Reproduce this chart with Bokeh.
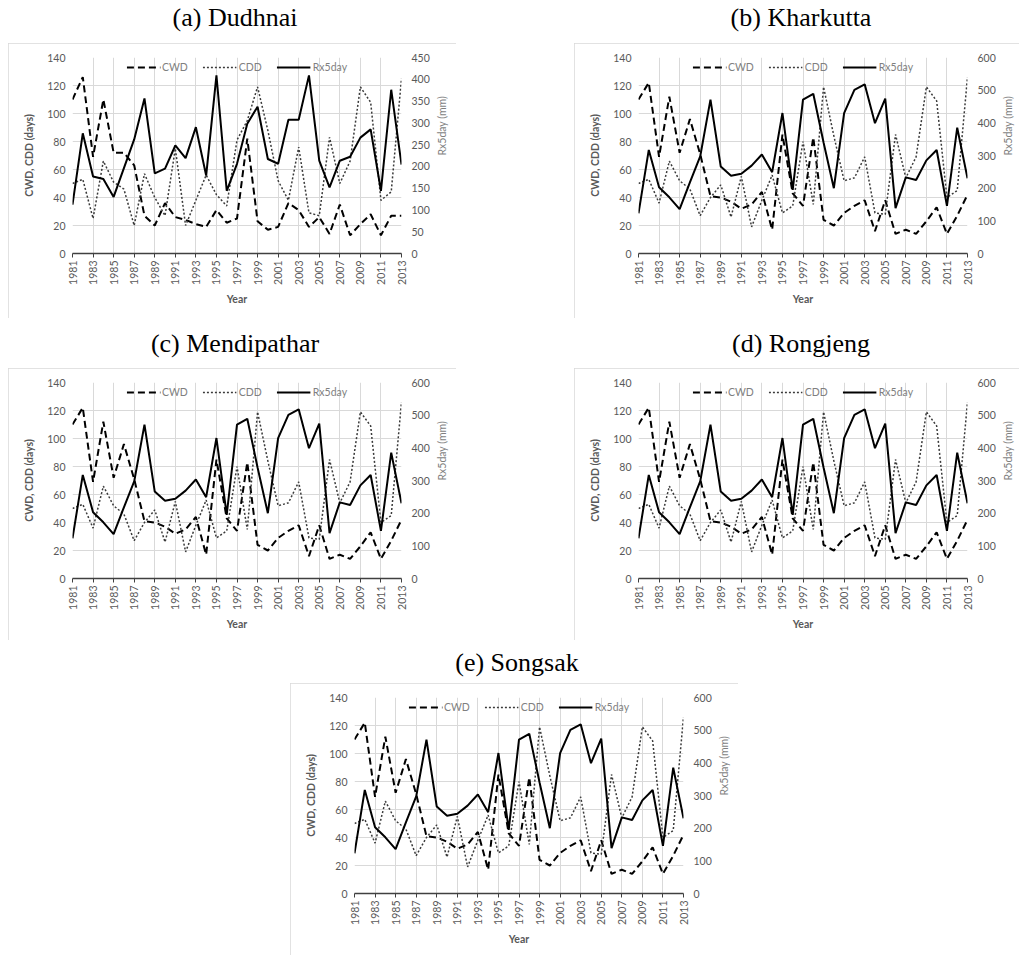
import math
from bokeh.plotting import figure
from bokeh.models import (Range1d, LinearAxis, FixedTicker, Spacer, Legend,
                          LegendItem)
from bokeh.layouts import column, row
from bokeh.embed import file_html
from bokeh.resources import INLINE

# ---------------- data ----------------
years = list(range(1981, 2014))
year_ticks = list(range(1981, 2014, 2))
left_ticks = list(range(0, 141, 20))

# (a) Dudhnai
cwd_dudhnai = [110, 126, 69, 110, 72, 72, 63, 27, 20, 36, 26, 24, 21, 19, 31, 22, 25,
               82, 23, 17, 19, 36, 31, 19, 26, 14, 35, 13, 21, 28, 13, 27, 27]
cdd_dudhnai = [50, 53, 25, 66, 51, 46, 20, 57, 40, 27, 75, 20, 38, 56, 42, 34, 81,
               95, 119, 88, 52, 38, 76, 29, 27, 83, 50, 66, 119, 108, 38, 44, 125]
rx5_dudhnai = [112, 276, 177, 171, 130, 196, 262, 356, 184, 195, 248, 219, 290, 179, 409, 144, 206,
               298, 337, 217, 206, 307, 307, 409, 213, 152, 213, 222, 266, 285, 144, 376, 204]

# (b) Kharkutta, (c) Mendipathar, (d) Rongjeng, (e) Songsak
cwd_kharkutta = [110, 122, 69, 112, 72, 96, 71, 41, 40, 37, 32, 35, 44, 17, 85, 43, 34,
                 83, 24, 20, 29, 34, 38, 16, 38, 14, 17, 14, 23, 33, 14, 27, 42]
cdd_kharkutta = [50, 53, 36, 66, 52, 46, 27, 40, 49, 26, 55, 19, 38, 56, 29, 34, 80,
                 35, 119, 84, 52, 54, 69, 29, 28, 85, 54, 69, 119, 109, 40, 45, 126]
rx5_kharkutta = [123, 317, 203, 172, 136, 218, 297, 471, 266, 238, 244, 269, 303, 249, 430, 195, 471,
                 489, 340, 200, 430, 501, 518, 399, 474, 139, 233, 225, 285, 317, 146, 385, 230]

cwd_mendipathar = list(cwd_kharkutta)
cdd_mendipathar = list(cdd_kharkutta)
rx5_mendipathar = list(rx5_kharkutta)
cwd_rongjeng = list(cwd_kharkutta)
cdd_rongjeng = list(cdd_kharkutta)
rx5_rongjeng = list(rx5_kharkutta)
cwd_songsak = list(cwd_kharkutta)
cdd_songsak = list(cdd_kharkutta)
rx5_songsak = list(rx5_kharkutta)

titles = ["(a) Dudhnai", "(b) Kharkutta", "(c) Mendipathar", "(d) Rongjeng", "(e) Songsak"]
right_max = [450, 600, 600, 600, 600]
right_step = [50, 100, 100, 100, 100]

FONT = "Lato"
GRID = "#d9d9d9"
TXT = "#595959"


def make_chart(cwd, cdd, rx, rmax, rstep, bottom):
    p = figure(frame_width=329, frame_height=196, toolbar_location=None,
               output_backend="svg", x_range=Range1d(1981, 2013), y_range=Range1d(0, 140),
               min_border_left=64, min_border_right=51, min_border_top=14,
               min_border_bottom=bottom, background_fill_color="white",
               border_fill_color="white",
               styles={"outline": "1px solid #d9d9d9", "outline-offset": "-1px"})
    p.extra_y_ranges = {"r": Range1d(0, rmax)}
    p.outline_line_color = None

    yt = FixedTicker(ticks=year_ticks)
    p.xaxis.ticker = yt
    p.xgrid.ticker = yt
    p.xgrid.grid_line_color = GRID
    p.ygrid.grid_line_color = GRID
    p.yaxis.ticker = FixedTicker(ticks=left_ticks)

    xa = p.xaxis[0]
    xa.axis_label = "Year"
    xa.major_label_orientation = math.pi / 2
    xa.axis_line_color = "#404040"
    xa.axis_line_width = 1.5
    xa.major_tick_line_color = "#404040"
    xa.major_tick_in = 0
    xa.major_tick_out = 4
    xa.minor_tick_line_color = None
    xa.minor_tick_out = 0
    xa.major_label_standoff = 3
    xa.axis_label_standoff = 5

    ya = p.yaxis[0]
    ya.axis_label = "CWD, CDD (days)"
    ya.axis_line_color = None
    ya.major_tick_line_color = None
    ya.minor_tick_line_color = None
    ya.major_tick_out = 0
    ya.major_tick_in = 0
    ya.minor_tick_out = 0
    ya.major_label_standoff = 7
    ya.axis_label_standoff = 9

    ra = LinearAxis(y_range_name="r", ticker=FixedTicker(ticks=list(range(0, rmax + 1, rstep))),
                    axis_label="Rx5day (mm)")
    ra.axis_line_color = None
    ra.major_tick_line_color = None
    ra.minor_tick_line_color = None
    ra.major_tick_out = 0
    ra.major_tick_in = 0
    ra.minor_tick_out = 0
    ra.major_label_standoff = 10
    ra.axis_label_standoff = 9
    ra.axis_label_orientation = math.pi / 2
    p.add_layout(ra, "right")

    for ax in (xa, ya, ra):
        ax.major_label_text_font = FONT
        ax.major_label_text_font_size = "10.5px"
        ax.major_label_text_color = TXT
        ax.axis_label_text_font = FONT
        ax.axis_label_text_font_size = "10.5px"
        ax.axis_label_text_color = TXT
        ax.axis_label_text_font_style = "bold"
    ra.axis_label_text_font_style = "normal"
    ra.axis_label_text_color = "#7f7f7f"

    r1 = p.line(years, cwd, line_color="black", line_width=2, line_dash="7 4")
    r2 = p.line(years, cdd, line_color="#3a3a3a", line_width=1.5, line_dash="2 2")
    r3 = p.line(years, rx, y_range_name="r", line_color="black", line_width=2)

    leg = Legend(items=[LegendItem(label="CWD", renderers=[r1]),
                        LegendItem(label="CDD", renderers=[r2]),
                        LegendItem(label="Rx5day", renderers=[r3])],
                 location="top_center", orientation="horizontal")
    leg.background_fill_alpha = 0
    leg.border_line_alpha = 0
    leg.label_text_font = FONT
    leg.label_text_font_size = "10.5px"
    leg.label_text_color = "#7f7f7f"
    leg.glyph_width = 34
    leg.glyph_height = 10
    leg.label_standoff = 2
    leg.spacing = 15
    leg.padding = 2
    leg.margin = 2
    p.add_layout(leg, "center")
    return p


def make_title(text, h):
    t = figure(width=444, height=h, toolbar_location=None, output_backend="svg",
               title=text, x_range=Range1d(0, 1), y_range=Range1d(0, 1), min_border=0)
    t.title.align = "center"
    t.title.text_font = "Liberation Serif"
    t.title.text_font_size = "26px"
    t.title.text_font_style = "normal"
    t.title.text_color = "black"
    t.title.standoff = 0
    t.axis.visible = False
    t.grid.visible = False
    t.outline_line_color = None
    t.background_fill_alpha = 0
    t.border_fill_alpha = 0
    return t


data = [(cwd_dudhnai, cdd_dudhnai, rx5_dudhnai),
        (cwd_kharkutta, cdd_kharkutta, rx5_kharkutta),
        (cwd_mendipathar, cdd_mendipathar, rx5_mendipathar),
        (cwd_rongjeng, cdd_rongjeng, rx5_rongjeng),
        (cwd_songsak, cdd_songsak, rx5_songsak)]
bottoms = [65, 65, 62, 62, 62]
title_gap = [0, 0, 8, 8, 5]
title_h = [43, 43, 42, 42, 38]

panels = []
for i in range(5):
    c, d, r = data[i]
    ch = make_chart(c, d, r, right_max[i], right_step[i], bottoms[i])
    tt = make_title(titles[i], title_h[i])
    if title_gap[i] > 0:
        panels.append(column(Spacer(width=444, height=title_gap[i]), tt, ch))
    else:
        panels.append(column(tt, ch))

layout = column(
    row(Spacer(width=8, height=5), panels[0], Spacer(width=118, height=5), panels[1]),
    row(Spacer(width=8, height=5), panels[2], Spacer(width=118, height=5), panels[3]),
    row(Spacer(width=290, height=5), panels[4]),
)

open("out.html", "w").write(file_html(layout, INLINE))
